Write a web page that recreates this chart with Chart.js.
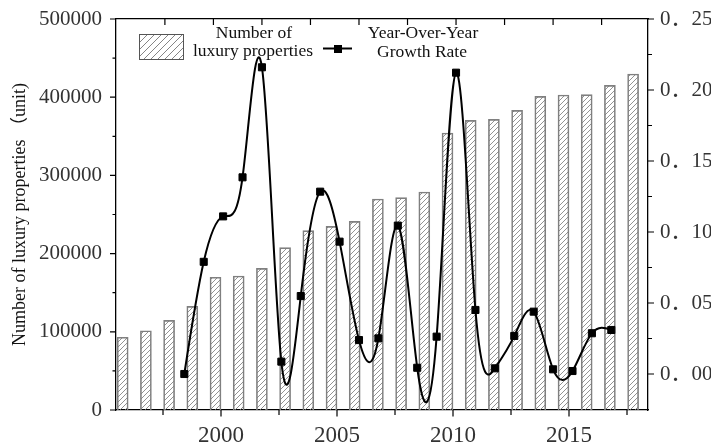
<!DOCTYPE html>
<html>
<head>
<meta charset="utf-8">
<script src="https://cdn.jsdelivr.net/npm/chart.js@4.4.0/dist/chart.umd.min.js"></script>
<style>
    html, body { margin: 0; padding: 0; background: #fff; }
    #wrap { width: 711px; height: 445px; }
</style>
</head>
<body>
<div id="wrap"><canvas id="chart" width="711" height="445"></canvas></div>
<script>
// Data
const years = [1996, 1997, 1998, 1999, 2000, 2001, 2002, 2003, 2004, 2005, 2006, 2007,
    2008, 2009, 2010, 2011, 2012, 2013, 2014, 2015, 2016, 2017, 2018];
const properties = [93000, 101400, 114700, 132600, 169700, 171400, 181200, 207600, 229300,
    234900, 241300, 269800, 271500, 278800, 354200, 370400, 371700, 383200, 401100, 402800,
    403200, 415200, 429700];
const growthRate = [0.000, 0.079, 0.111, 0.1385, 0.216, 0.0087, 0.0549, 0.1284, 0.0932,
    0.0239, 0.0251, 0.1045, 0.0044, 0.0263, 0.2122, 0.0451, 0.0040, 0.0268, 0.0439,
    0.0033, 0.0021, 0.0287, 0.0310];

// Tick positions
const yearTicks = [1997.5, 2000, 2002.5, 2005, 2007.5, 2010, 2012.5, 2015, 2017.5];
const growthTicks = [0, 2.5, 5, 7.5, 10, 12.5, 15, 17.5, 20, 22.5];
const countTicks = [0, 50000, 100000, 150000, 200000, 250000, 300000, 350000, 400000, 450000, 500000];
const rateTicks = [0, 0.025, 0.05, 0.075, 0.1, 0.125, 0.15, 0.175, 0.2, 0.225, 0.25];

const serif = '"Liberation Serif", "Noto Sans CJK SC", serif';

// hatch pattern for the bars
function makeHatch(step, color) {
    const c = document.createElement('canvas');
    c.width = step;
    c.height = step;
    const g = c.getContext('2d');
    g.strokeStyle = color;
    g.lineWidth = 0.8;
    g.beginPath();
    g.moveTo(0, step);
    g.lineTo(step, 0);
    g.moveTo(-1, 1);
    g.lineTo(1, -1);
    g.moveTo(step - 1, step + 1);
    g.lineTo(step + 1, step - 1);
    g.stroke();
    return g.createPattern(c, 'repeat');
}
const barHatch = makeHatch(5, '#777');
const legendHatch = makeHatch(7, '#666');

// keep the plot box fixed: no extra room for end labels
function noPad(s) {
    s.paddingTop = 0;
    s.paddingBottom = 0;
    s.paddingLeft = 0;
    s.paddingRight = 0;
}

// natural cubic spline through the line's points (sets the bezier handles chart.js draws with)
const naturalSpline = {
    id: 'naturalSpline',
    beforeDatasetDraw(chart, args) {
        const meta = args.meta;
        if (meta.type !== 'line') return;
        meta.dataset.updateControlPoints(chart.chartArea, meta.iScale.axis);
        const pts = meta.data;
        const n = pts.length - 1;
        const h = [];
        const m = new Array(n + 1).fill(0);
        for (let i = 0; i < n; i++) h.push(pts[i + 1].x - pts[i].x);
        const a = [], b = [], c = [], r = [];
        for (let i = 1; i < n; i++) {
            a[i] = h[i - 1];
            b[i] = 2 * (h[i - 1] + h[i]);
            c[i] = h[i];
            r[i] = 6 * ((pts[i + 1].y - pts[i].y) / h[i] - (pts[i].y - pts[i - 1].y) / h[i - 1]);
        }
        for (let i = 2; i < n; i++) {
            const w = a[i] / b[i - 1];
            b[i] -= w * c[i - 1];
            r[i] -= w * r[i - 1];
        }
        for (let i = n - 1; i >= 1; i--) {
            m[i] = (r[i] - c[i] * m[i + 1]) / b[i];
        }
        pts.forEach((p, i) => {
            let d;
            if (i < n) {
                d = (pts[i + 1].y - p.y) / h[i] - h[i] * (2 * m[i] + m[i + 1]) / 6;
            } else {
                d = (p.y - pts[i - 1].y) / h[i - 1] + h[i - 1] * (m[i - 1] + 2 * m[i]) / 6;
            }
            const hl = i > 0 ? h[i - 1] : 0;
            const hr = i < n ? h[i] : 0;
            p.cp1x = p.x - hl / 3;
            p.cp1y = p.y - d * hl / 3;
            p.cp2x = p.x + hr / 3;
            p.cp2y = p.y + d * hr / 3;
        });
    }
};

// tick marks: major / minor, in or out
const axisTicks = {
    id: 'axisTicks',
    afterDraw(chart) {
        const { ctx, chartArea: a, scales } = chart;
        ctx.save();
        ctx.strokeStyle = '#000';
        ctx.lineWidth = 1.2;
        ctx.beginPath();
        yearTicks.forEach(v => {
            const x = scales.x.getPixelForValue(v);
            const len = v % 5 === 0 ? 6.5 : 5;
            ctx.moveTo(x, a.bottom);
            ctx.lineTo(x, a.bottom + len);
        });
        growthTicks.forEach(v => {
            const x = scales.x2.getPixelForValue(v);
            ctx.moveTo(x, a.top);
            ctx.lineTo(x, a.top + 6);
        });
        countTicks.forEach(v => {
            const y = scales.y.getPixelForValue(v);
            const len = v % 100000 === 0 ? 6 : 3.5;
            ctx.moveTo(a.left, y);
            ctx.lineTo(a.left - len, y);
        });
        rateTicks.forEach(v => {
            const y = scales.y2.getPixelForValue(v);
            const len = Math.round(v * 1000) % 50 === 0 ? 6 : 4;
            ctx.moveTo(a.right, y);
            ctx.lineTo(a.right + len, y);
        });
        ctx.stroke();
        ctx.restore();
    }
};

// two-line legend at the top left
const twoLineLegend = {
    id: 'twoLineLegend',
    afterDraw(chart) {
        const { ctx } = chart;
        ctx.save();
        ctx.fillStyle = legendHatch;
        ctx.fillRect(139, 34, 44, 25);
        ctx.strokeStyle = '#555';
        ctx.lineWidth = 1;
        ctx.strokeRect(139.5, 34.5, 44, 25);

        ctx.fillStyle = '#111';
        ctx.font = '17.5px ' + serif;
        ctx.textAlign = 'center';
        ctx.textBaseline = 'alphabetic';
        ctx.fillText('Number of', 254, 37.5);
        ctx.fillText('luxury properties', 253, 56);
        ctx.fillText('Year-Over-Year', 423, 37.5);
        ctx.fillText('Growth Rate', 422, 57);

        ctx.strokeStyle = '#000';
        ctx.lineWidth = 2;
        ctx.beginPath();
        ctx.moveTo(323, 48.5);
        ctx.lineTo(352, 48.5);
        ctx.stroke();
        ctx.fillStyle = '#000';
        ctx.fillRect(334, 45, 8, 8);
        ctx.restore();
    }
};

const ctx = document.getElementById('chart').getContext('2d');
const chart = new Chart(ctx, {
    type: 'bar',
    data: {
        datasets: [{
            type: 'bar',
            label: 'Number of luxury properties',
            data: years.map((y, i) => ({ x: y, y: properties[i] })),
            xAxisID: 'x',
            yAxisID: 'y',
            backgroundColor: barHatch,
            borderColor: '#808080',
            borderWidth: 1,
            barThickness: 11,
            order: 2
        }, {
            type: 'line',
            label: 'Year-Over-Year Growth Rate',
            data: growthRate.map((v, i) => ({ x: i + 1, y: v })),
            xAxisID: 'x2',
            yAxisID: 'y2',
            borderColor: '#000',
            borderWidth: 2,
            tension: 0.4,
            pointStyle: 'rect',
            pointRadius: 5,
            pointBackgroundColor: '#000',
            pointBorderColor: '#000',
            pointBorderWidth: 1,
            order: 1
        }]
    },
    options: {
        responsive: false,
        animation: false,
        devicePixelRatio: 1,
        layout: { padding: 0 },
        plugins: {
            legend: { display: false },
            tooltip: { enabled: false }
        },
        scales: {
            x: {
                type: 'linear',
                position: 'bottom',
                offset: false,
                min: 1995.474,
                max: 2018.405,
                grid: { display: false, drawTicks: false, offset: false },
                border: { display: true, color: '#000', width: 1.3 },
                afterBuildTicks: s => { s.ticks = yearTicks.map(v => ({ value: v })); },
                afterFit: s => { s.height = 35; noPad(s); },
                ticks: {
                    autoSkip: false,
                    maxRotation: 0,
                    padding: 12,
                    color: '#333',
                    font: { family: serif, size: 23 },
                    callback: v => (v % 5 === 0 ? String(v) : '')
                }
            },
            x2: {
                type: 'linear',
                position: 'top',
                offset: false,
                min: -2.519,
                max: 24.89,
                grid: { display: false, drawTicks: false, offset: false },
                border: { display: true, color: '#000', width: 1.3 },
                afterBuildTicks: s => { s.ticks = growthTicks.map(v => ({ value: v })); },
                afterFit: s => { s.height = 19; noPad(s); },
                ticks: { display: false }
            },
            y: {
                type: 'linear',
                position: 'left',
                min: 0,
                max: 500000,
                grid: { display: false, drawTicks: false },
                border: { display: true, color: '#000', width: 1.3 },
                afterBuildTicks: s => { s.ticks = countTicks.map(v => ({ value: v })); },
                afterFit: s => { s.width = 116; noPad(s); },
                title: {
                    display: true,
                    text: 'Number of luxury properties \uFF08unit)',
                    color: '#111',
                    font: { family: serif, size: 18 },
                    padding: { top: 9, bottom: 0 }
                },
                ticks: {
                    autoSkip: false,
                    padding: 14,
                    color: '#333',
                    font: { family: serif, size: 21 },
                    callback: v => (v % 100000 === 0 ? String(v) : '')
                }
            },
            y2: {
                type: 'linear',
                position: 'right',
                min: -0.02535,
                max: 0.25,
                grid: { display: false, drawTicks: false },
                border: { display: true, color: '#000', width: 1.3 },
                afterBuildTicks: s => { s.ticks = rateTicks.map(v => ({ value: v })); },
                afterFit: s => { s.width = 63; noPad(s); },
                ticks: {
                    autoSkip: false,
                    padding: 12,
                    color: '#333',
                    font: { family: serif, size: 21 },
                    callback: v => (Math.round(v * 1000) % 50 === 0 ? v.toFixed(2).replace('.', '\uFF0E') : '')
                }
            }
        }
    },
    plugins: [naturalSpline, axisTicks, twoLineLegend]
});
</script>
</body>
</html>
